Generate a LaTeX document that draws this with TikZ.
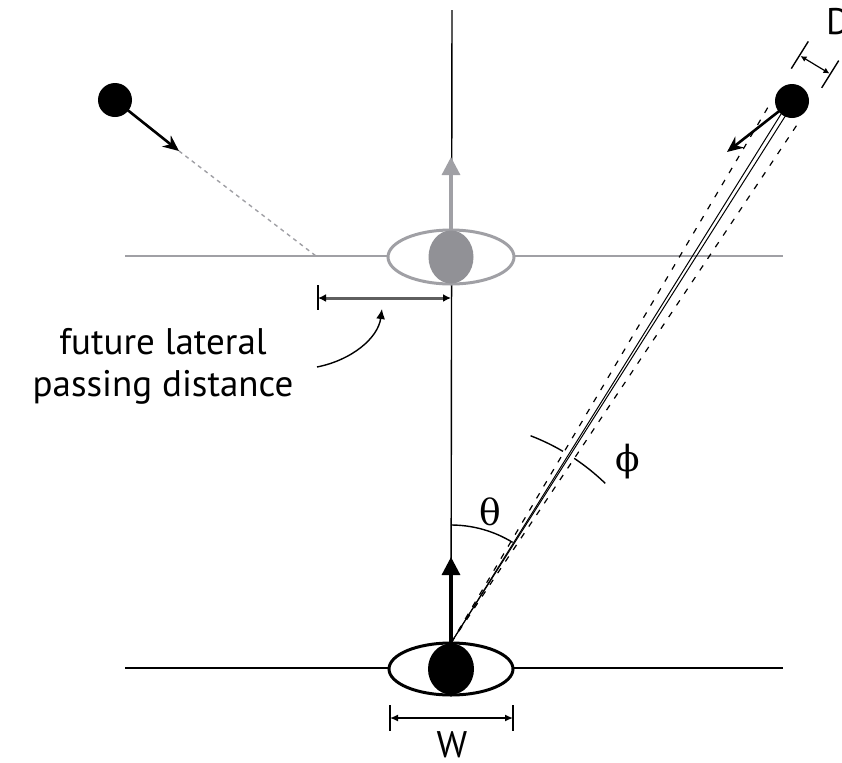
\documentclass[tikz,border=0pt]{standalone}
\usepackage{fontspec}
\setmainfont{PT Sans}
\newfontfamily\greekfont{DejaVu Serif}
\usetikzlibrary{arrows.meta}

\definecolor{futuregray}{RGB}{160,160,165}
\definecolor{pupilgray}{RGB}{145,145,150}
\definecolor{dimgray}{RGB}{95,95,95}

\tikzset{
  thinline/.style={line width=0.7pt},
  eyeline/.style={line width=1.5pt},
  headarrow/.style={line width=1.6pt, -{Triangle[length=9pt, width=9pt]}},
  ballarrow/.style={line width=1.3pt, -{Stealth[length=8pt, width=7pt]}},
  dimarrow/.style={line width=0.7pt, {Latex[length=4pt, width=3.5pt]}-{Latex[length=4pt, width=3.5pt]}},
  sightline/.style={line width=0.5pt},
  sightdash/.style={line width=0.6pt, dash pattern=on 3pt off 4pt},
  anglelabel/.style={font=\greekfont\fontsize{18}{20}\selectfont},
}

\begin{document}
\begin{tikzpicture}[x=0.5pt, y=-0.5pt, font=\fontsize{18.5}{21}\selectfont]
\useasboundingbox (0,0) rectangle (842,762);

% Key points
\coordinate (eye) at (451,669);
\coordinate (gaze) at (451,643);
\coordinate (future) at (451,257);
\coordinate (ballL) at (115,100);
\coordinate (ballR) at (792,101);
\coordinate (ballLhead) at (179,151);
\coordinate (ballRhead) at (727,152);
\coordinate (crossing) at (316,256);

% Ground lines
\draw[thinline] (125,668) -- (783,668);
\draw[futuregray, line width=1pt] (125,256) -- (783,256);

% Heading line
\draw[thinline] (452,10) -- (gaze);

% Future observer (gray)
\draw[eyeline, futuregray, fill=white] (future) ellipse [x radius=63, y radius=27];
\fill[pupilgray] (future) ellipse [x radius=22.5, y radius=26.5];
\draw[headarrow, futuregray] (451,230) -- (451,157);

% Observer
\draw[eyeline, fill=white] (eye) ellipse [x radius=62, y radius=26];
\fill (eye) ellipse [x radius=23, y radius=25.5];
\draw[headarrow] (gaze) -- (451,557);

% Lines of sight to the right ball
\draw[sightline] (gaze) -- (790,99.7);
\draw[sightline] (gaze) -- (794,102.3);
\draw[sightdash] (gaze) -- (768,107.2);
\draw[sightdash] (gaze) -- (796.8,125.2);

% Balls
\fill (ballL) circle [radius=17];
\fill (ballR) circle [radius=17];
\draw[ballarrow] (ballL) -- (ballLhead);
\draw[futuregray, line width=0.7pt, dash pattern=on 2pt off 2pt] (ballLhead) -- (crossing);
\draw[ballarrow] (ballR) -- (ballRhead);

% Lateral passing distance
\draw[thinline] (318,285) -- (318,310);
\draw[dimgray, line width=1.5pt, {Latex[length=4pt, width=4pt, color=black]}-{Latex[length=4pt, width=4pt, color=black]}] (318,298) -- (451,298);
\draw[thinline, -{Latex[length=5pt, width=4.5pt]}] (317,367) .. controls (352,360) and (378,338) .. (382,309);
\node[align=center] (lateralLabel) at (163,366) {future lateral\\passing distance};

% Width W
\draw[thinline] (390,705) -- (390,731);
\draw[thinline] (513,705) -- (513,731);
\draw[dimarrow] (390,718) -- (513,718);
\node[inner sep=0pt] (widthLabel) at (452,745) {W};

% Angles
\draw[thinline] (451,525) arc[start angle=-90, end angle=-58.5, radius=118];
\node[anglelabel] (thetaLabel) at (490,512) {θ};
\draw[thinline] ([shift={(-69:222)}]gaze) arc[start angle=-69, end angle=-59.7, radius=222];
\draw[thinline] ([shift={(-56.3:222)}]gaze) arc[start angle=-56.3, end angle=-46, radius=222];
\node[anglelabel] (phiLabel) at (628,462) {ϕ};

% Size D
\draw[thinline] (808.3,41.4) -- (791.3,68.6);
\draw[thinline] (838.7,60.6) -- (821.7,87.8);
\draw[line width=0.6pt, {Latex[length=3pt, width=3pt]}-{Latex[length=3pt, width=3pt]}] (800.5,56) -- (829.5,73.5);
\node[anchor=west] (sizeLabel) at (819,22) {D};

\end{tikzpicture}
\end{document}
